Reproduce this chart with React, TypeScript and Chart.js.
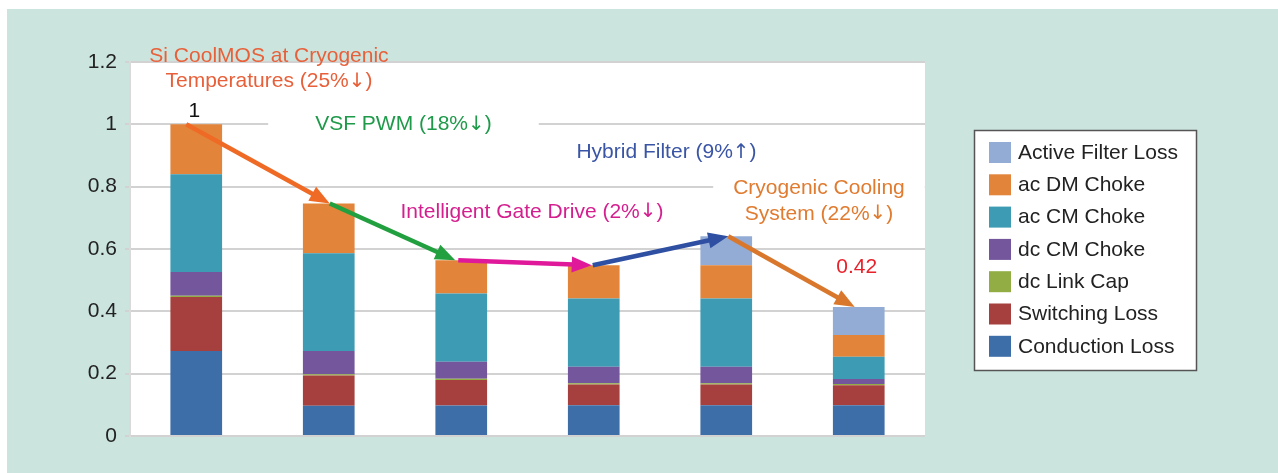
import React, { useEffect, useRef } from 'react';
import { Chart, registerables } from 'chart.js';

Chart.register(...registerables);

const categories = [
  'Baseline',
  'Si CoolMOS at Cryogenic Temperatures',
  'VSF PWM',
  'Intelligent Gate Drive',
  'Hybrid Filter',
  'Cryogenic Cooling System',
];

const conductionLoss = [0.273, 0.097, 0.098, 0.099, 0.099, 0.099];
const switchingLoss = [0.173, 0.097, 0.082, 0.066, 0.066, 0.064];
const dcLinkCap = [0.004, 0.004, 0.004, 0.004, 0.004, 0.004];
const dcCMChoke = [0.076, 0.075, 0.054, 0.053, 0.053, 0.016];
const acCMChoke = [0.314, 0.313, 0.219, 0.219, 0.219, 0.071];
const acDMChoke = [0.16, 0.16, 0.107, 0.107, 0.107, 0.07];
const activeFilterLoss = [0, 0, 0, 0, 0.093, 0.09];

const seriesNames = [
  'Conduction Loss',
  'Switching Loss',
  'dc Link Cap',
  'dc CM Choke',
  'ac CM Choke',
  'ac DM Choke',
  'Active Filter Loss',
];
const seriesValues = [conductionLoss, switchingLoss, dcLinkCap, dcCMChoke, acCMChoke, acDMChoke, activeFilterLoss];
const seriesColors = ['#3d6ea8', '#a6403e', '#93ad45', '#74569c', '#3d9bb4', '#e2853a', '#93acd5'];

const yTicks = [0, 0.2, 0.4, 0.6, 0.8, 1, 1.2];

const totalLabels = ['1', '', '', '', '', '0.42'];
const totalLabelColors = ['#111111', '', '', '', '', '#e8222a'];

// step annotations (text) — positions in category index / value space
const noteLines = [
  ['Si CoolMOS at Cryogenic', 'Temperatures (25%\u2193)'],
  ['VSF PWM (18%\u2193)'],
  ['Intelligent Gate Drive (2%\u2193)'],
  ['Hybrid Filter (9%\u2191)'],
  ['Cryogenic Cooling', 'System (22%\u2193)'],
];
const noteX = [0.549, 1.564, 2.534, 3.549, 4.70];
const noteY = [[1.218, 1.138], [1.0], [0.718], [0.91], [0.795, 0.712]];
const noteColors = ['#e8603a', '#1f9a4a', '#d4208f', '#3a55a5', '#e07b30'];
const noteBoxPad = [0, 47, 0, 0, 20];

const arrowColors = ['#ef6a25', '#22a03f', '#e0199b', '#2f4fa2', '#d9782c'];
const arrowStartDx = [-10, 1, -3, -1, 2];
const arrowEndDx = [1, -6, -2, 2, -4];

const FONT = '"Liberation Sans", Arial, Helvetica, sans-serif';
const ARROW_FONT = '"DejaVu Sans", sans-serif';
const FS = 21;

function segments(text: string) {
  const out: { t: string; arrow: boolean }[] = [];
  let cur = '';
  for (const ch of text) {
    if (ch === '\u2193' || ch === '\u2191') {
      if (cur) out.push({ t: cur, arrow: false });
      out.push({ t: ch, arrow: true });
      cur = '';
    } else cur += ch;
  }
  if (cur) out.push({ t: cur, arrow: false });
  return out;
}

function measureMixed(ctx: CanvasRenderingContext2D, text: string) {
  let w = 0;
  for (const s of segments(text)) {
    ctx.font = s.arrow ? `${FS - 1}px ${ARROW_FONT}` : `${FS}px ${FONT}`;
    w += ctx.measureText(s.t).width;
  }
  return w;
}

function fillMixed(ctx: CanvasRenderingContext2D, text: string, cx: number, cy: number) {
  const total = measureMixed(ctx, text);
  let x = cx - total / 2;
  ctx.textAlign = 'left';
  ctx.textBaseline = 'middle';
  for (const s of segments(text)) {
    ctx.font = s.arrow ? `${FS - 1}px ${ARROW_FONT}` : `${FS}px ${FONT}`;
    ctx.fillText(s.t, x, cy);
    x += ctx.measureText(s.t).width;
  }
}

function drawArrow(ctx: CanvasRenderingContext2D, x1: number, y1: number, x2: number, y2: number, color: string) {
  const ang = Math.atan2(y2 - y1, x2 - x1);
  const headLen = 20;
  const headW = 8;
  const bx = x2 - headLen * Math.cos(ang);
  const by = y2 - headLen * Math.sin(ang);
  ctx.save();
  ctx.strokeStyle = color;
  ctx.fillStyle = color;
  ctx.lineWidth = 4.5;
  ctx.lineCap = 'butt';
  ctx.beginPath();
  ctx.moveTo(x1, y1);
  ctx.lineTo(bx + 2 * Math.cos(ang), by + 2 * Math.sin(ang));
  ctx.stroke();
  ctx.beginPath();
  ctx.moveTo(x2, y2);
  ctx.lineTo(bx - headW * Math.sin(ang), by + headW * Math.cos(ang));
  ctx.lineTo(bx + headW * Math.sin(ang), by - headW * Math.cos(ang));
  ctx.closePath();
  ctx.fill();
  ctx.restore();
}

export default function App() {
  const ref = useRef<HTMLCanvasElement | null>(null);

  useEffect(() => {
    if (!ref.current) return;
    const totals = categories.map((_, i) => seriesValues.reduce((s, arr) => s + arr[i], 0));

    const bgPlugin = {
      id: 'plotBg',
      beforeDraw(chart: any) {
        const { ctx, chartArea } = chart;
        ctx.save();
        ctx.fillStyle = '#ffffff';
        ctx.fillRect(chartArea.left, chartArea.top, chartArea.right - chartArea.left, chartArea.bottom - chartArea.top);
        ctx.restore();
      },
      beforeDatasetsDraw(chart: any) {
        const { ctx, scales } = chart;
        ctx.save();
        noteLines.forEach((lines, k) => {
          if (!noteBoxPad[k]) return;
          const cx = scales.x.getPixelForValue(noteX[k]);
          const w = Math.max(...lines.map((l) => measureMixed(ctx, l))) + 2 * noteBoxPad[k];
          const ys = noteY[k].map((v) => scales.y.getPixelForValue(v));
          const top = Math.min(...ys) - 13;
          const bottom = Math.max(...ys) + 13;
          ctx.fillStyle = '#ffffff';
          ctx.fillRect(cx - w / 2, top, w, bottom - top);
        });
        ctx.restore();
      },
      afterDatasetsDraw(chart: any) {
        const { ctx, scales } = chart;
        for (let i = 0; i < categories.length - 1; i++) {
          const x1 = scales.x.getPixelForValue(i) + arrowStartDx[i];
          const y1 = scales.y.getPixelForValue(totals[i]);
          const x2 = scales.x.getPixelForValue(i + 1) + arrowEndDx[i];
          const y2 = scales.y.getPixelForValue(totals[i + 1]);
          drawArrow(ctx, x1, y1, x2, y2, arrowColors[i]);
        }
        ctx.save();
        noteLines.forEach((lines, k) => {
          ctx.fillStyle = noteColors[k];
          const cx = scales.x.getPixelForValue(noteX[k]);
          lines.forEach((l, j) => {
            fillMixed(ctx, l, cx, scales.y.getPixelForValue(noteY[k][j]));
          });
        });
        totalLabels.forEach((t, i) => {
          if (!t) return;
          ctx.fillStyle = totalLabelColors[i];
          const cx = scales.x.getPixelForValue(i) - 2;
          const cy = scales.y.getPixelForValue(totals[i]) - (i === 0 ? 13 : 40);
          fillMixed(ctx, t, cx, cy);
        });
        ctx.restore();
      },
      afterDraw(chart: any) {
        const { ctx } = chart;
        const bx = 967.5, by = 121.5, bw = 222, bh = 240;
        ctx.save();
        ctx.fillStyle = '#ffffff';
        ctx.fillRect(bx, by, bw, bh);
        ctx.strokeStyle = '#555555';
        ctx.lineWidth = 1.5;
        ctx.strokeRect(bx, by, bw, bh);
        ctx.font = `${FS}px ${FONT}`;
        ctx.textBaseline = 'middle';
        ctx.textAlign = 'left';
        const ds = chart.data.datasets.slice().reverse();
        ds.forEach((d: any, k: number) => {
          const sy = 133 + k * 32.3;
          ctx.fillStyle = d.backgroundColor;
          ctx.fillRect(982, sy, 22, 21);
          ctx.fillStyle = '#222222';
          ctx.fillText(d.label, 1011, sy + 11);
        });
        ctx.restore();
      },
    };

    const chart = new Chart(ref.current, {
      type: 'bar',
      data: {
        labels: categories,
        datasets: seriesNames.map((name, k) => ({
          label: name,
          data: seriesValues[k],
          backgroundColor: seriesColors[k],
          borderWidth: 0,
          barPercentage: 0.39,
          categoryPercentage: 1,
        })),
      },
      options: {
        responsive: false,
        animation: false,
        layout: { padding: { left: 0, top: 53, right: 353, bottom: 37 } },
        plugins: { legend: { display: false }, tooltip: { enabled: false } },
        scales: {
          x: { stacked: true, display: false },
          y: {
            stacked: true,
            min: 0,
            max: 1.2,
            afterBuildTicks(scale: any) {
              scale.ticks = yTicks.map((v) => ({ value: v }));
            },
            afterFit(scale: any) {
              scale.width = 123;
            },
            ticks: {
              color: '#222222',
              font: { family: FONT, size: FS },
              padding: 8,
              callback: (v: any) => String(v),
            },
            grid: { color: '#d2d2d2', lineWidth: 2, tickLength: 5, drawTicks: true },
            border: { display: true, color: '#dadada', width: 2 },
          },
        },
      },
      plugins: [bgPlugin],
    });
    return () => chart.destroy();
  }, []);

  return (
    <div style={{ position: 'absolute', left: 7, top: 9, width: 1271, height: 464, background: '#cbe5de' }}>
      <canvas ref={ref} width={1271} height={464} style={{ display: 'block' }} />
    </div>
  );
}
